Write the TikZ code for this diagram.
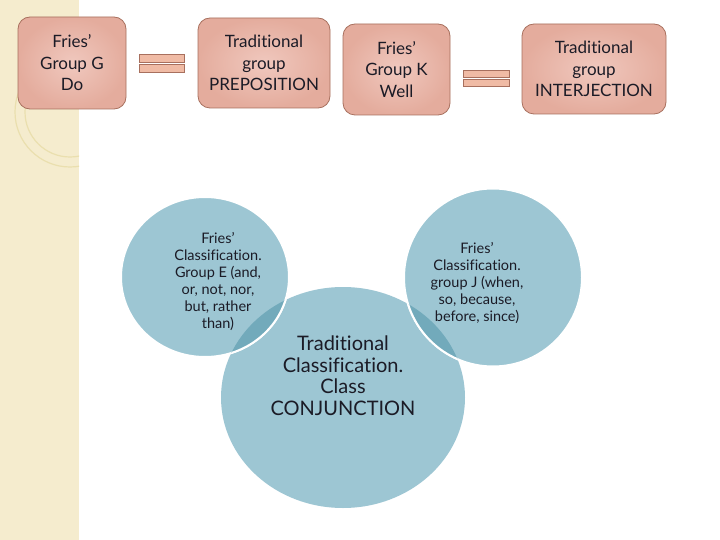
\documentclass[tikz,border=0pt]{standalone}
\usepackage{fontspec}
\setmainfont{Lato}[Ligatures={NoCommon,NoRequired,NoContextual}]
\usetikzlibrary{shapes.geometric}

\begin{document}
\begin{tikzpicture}[
    x=1pt, y=-1pt,
    every node/.style={text=textdark},
    groupbox/.style={
        draw=boxedge,
        inner color=boxlight,
        outer color=boxdark,
        rounded corners=12pt,
        line width=0.8pt,
        align=center,
        inner sep=0pt,
        font=\fontsize{17}{21.5}\selectfont,
    },
    eqbar/.style={
        draw=boxedge,
        fill=barfill,
        line width=0.6pt,
        inner sep=0pt,
        minimum height=8pt,
    },
    bubble/.style={
        ellipse,
        fill=bubblefill,
        draw=white,
        line width=2pt,
        inner sep=0pt,
    },
    bubbletext/.style={
        align=center,
        inner sep=0pt,
        font=\fontsize{14.5}{17}\selectfont,
    }
]

% Colors matching the original
\definecolor{textdark}{HTML}{1B1B26}
\definecolor{boxedge}{HTML}{A8705E}
\definecolor{boxlight}{HTML}{F0C8BE}
\definecolor{boxdark}{HTML}{E4AC9D}
\definecolor{barfill}{HTML}{F0BBA5}
\definecolor{bubblefill}{HTML}{9DC6D3}
\definecolor{lensblue}{HTML}{72AABB}
\definecolor{stripcream}{HTML}{F5ECCE}
\definecolor{ringline}{HTML}{EADFAE}

% Page and left strip
\fill[white] (0,0) rectangle (720,540);
\fill[stripcream] (0,0) rectangle (79,540);
\begin{scope}
    \clip (0,0) rectangle (79,540);
    \draw[ringline, line width=1.2pt] (70,112) circle [radius=55];
    \draw[ringline, line width=1.2pt] (70,112) circle [radius=45];
\end{scope}

% Top row of boxes
\node[groupbox, minimum width=108pt, minimum height=92pt] (groupG) at (72,63) {Fries’\\Group G\\Do};
\node[groupbox, minimum width=132pt, minimum height=90pt] (tradPrep) at (264,63) {Traditional\\group\\PREPOSITION};
\node[groupbox, minimum width=107pt, minimum height=91pt] (groupK) at (396.5,69.5) {Fries’\\Group K\\Well};
\node[groupbox, minimum width=144pt, minimum height=90pt] (tradInterj) at (594,69) {Traditional\\group\\INTERJECTION};

% Equals signs between the pairs
\node[eqbar, minimum width=45pt] (eqGtop) at (161.5,58) {};
\node[eqbar, minimum width=45pt] (eqGbot) at (161.5,68) {};
\node[eqbar, minimum width=46pt, minimum height=7pt] (eqKtop) at (486,73.5) {};
\node[eqbar, minimum width=46pt, minimum height=7pt] (eqKbot) at (486,82.5) {};

% Bubbles
\node[bubble, draw=none, minimum width=244pt, minimum height=221pt] (conj) at (343,397.5) {};
\node[bubble, minimum width=168pt, minimum height=160pt] (groupE) at (205,277) {};
\node[bubble, minimum width=178pt, minimum height=178pt] (groupJ) at (493,277.5) {};

% Overlaps with the middle bubble
\begin{scope}
    \clip (conj.center) ellipse [x radius=122, y radius=110.5];
    \filldraw[fill=lensblue, draw=white, line width=2pt] (groupE.center) ellipse [x radius=84, y radius=80];
    \filldraw[fill=lensblue, draw=white, line width=2pt] (groupJ.center) circle [radius=89];
\end{scope}

% Bubble texts
\node[bubbletext] (groupEtext) at ([xshift=13pt, yshift=-4.5pt]groupE.center) {Fries’\\Classification.\\Group E (and,\\or, not, nor,\\but, rather\\than)};
\node[bubbletext] (groupJtext) at ([xshift=-16pt, yshift=-6pt]groupJ.center) {Fries’\\Classification.\\group J (when,\\so, because,\\before, since)};
\node[bubbletext, font=\fontsize{20}{21.5}\selectfont] (conjtext) at ([yshift=22pt]conj.center) {Traditional\\Classification.\\Class\\CONJUNCTION};

\end{tikzpicture}
\end{document}
